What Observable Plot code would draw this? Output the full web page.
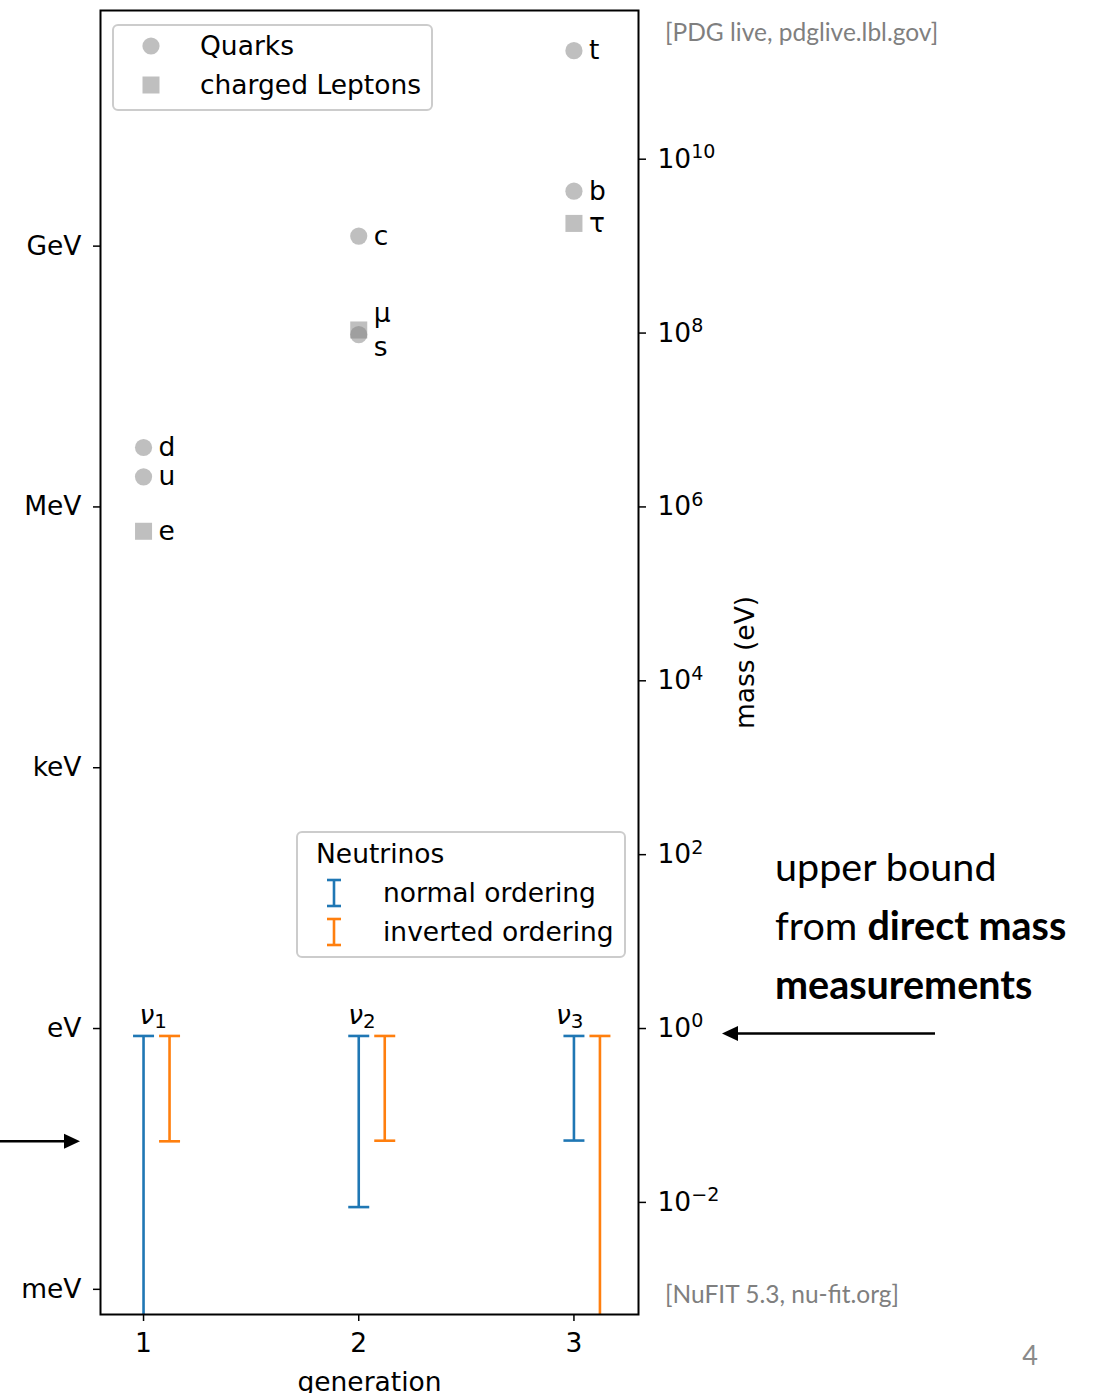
<!DOCTYPE html>
<html>
<head>
<meta charset="utf-8">
<script src="https://cdn.jsdelivr.net/npm/d3@7"></script>
<script src="https://cdn.jsdelivr.net/npm/@observablehq/plot@0.6"></script>
<style>
  html, body { margin: 0; padding: 0; background: white; }
  #chart { width: 1097px; height: 1393px; overflow: hidden; }
</style>
</head>
<body>
<div id="chart"></div>
<script>
// ---------- data ----------
const quarkNames = ["u", "d", "c", "s", "t", "b"];
const quarkGen   = [1, 1, 2, 2, 3, 3];
const quarkMass  = [2.16e6, 4.7e6, 1.27e9, 9.35e7, 1.727e11, 4.18e9]; // eV

const leptonNames = ["e", "μ", "τ"];
const leptonGen   = [1, 2, 3];
const leptonMass  = [0.511e6, 105.66e6, 1.777e9]; // eV

const nuNames       = ["ν_1", "ν_2", "ν_3"];
const nuGen         = [1, 2, 3];
const nuLabelX      = [1.045, 2.015, 2.98];
const nuUpper       = [0.8, 0.8, 0.8];          // eV, direct mass bound
const normalLower   = [0, 0.0086, 0.0501];      // eV (0 = no lower bound)
const invertedLower = [0.0491, 0.0499, 0];      // eV

const leftTicks      = [1e-3, 1, 1e3, 1e6, 1e9];
const leftTickLabels = ["meV", "eV", "keV", "MeV", "GeV"];
const rightTicks     = [1e-2, 1, 1e2, 1e4, 1e6, 1e8, 1e10];

const xDomain = [0.8, 3.3];
const yDomain = [5e-4, 5e11];

// ---------- tables ----------
const quarks  = quarkNames.map((n, i) => ({name: n, gen: quarkGen[i], mass: quarkMass[i]}));
const leptons = leptonNames.map((n, i) => ({name: n, gen: leptonGen[i], mass: leptonMass[i]}));
const particles = [...quarks, ...leptons];
const nus = nuNames.map((n, i) => ({
  name: n, gen: nuGen[i], lx: nuLabelX[i], up: nuUpper[i],
  loN: normalLower[i], loI: invertedLower[i]
}));

const BLUE = "#1f77b4", ORANGE = "#ff7f0e", GRAY = "#808080";
const FONT = "DejaVu Sans, sans-serif";
const SLIDE = "Lato, 'Open Sans', sans-serif";
const FS = 26.5;

// horizontal cap symbol for error bars
const capSymbol = {
  draw(context, size) {
    const w = Math.sqrt(size / Math.PI);
    context.moveTo(-w, 0);
    context.lineTo(w, 0);
  }
};

const yMin = yDomain[0] * 0.5;

const plot = Plot.plot({
  width: 1097,
  height: 1393,
  marginLeft: 100,
  marginRight: 459,
  marginTop: 10,
  marginBottom: 79,
  x: {domain: xDomain},
  y: {type: "log", domain: yDomain},
  style: {fontFamily: FONT, fontSize: FS + "px", background: "white", color: "black"},
  marks: [
    // error bars: normal ordering
    Plot.ruleX(nus, {x: "gen", y1: d => d.loN > 0 ? d.loN : yMin, y2: "up",
      stroke: BLUE, strokeWidth: 2.6, clip: true}),
    Plot.dot(nus, {x: "gen", y: "up", symbol: capSymbol, r: 10.5, fill: "none",
      stroke: BLUE, strokeWidth: 2.6}),
    Plot.dot(nus.filter(d => d.loN > 0), {x: "gen", y: "loN", symbol: capSymbol, r: 10.5,
      fill: "none", stroke: BLUE, strokeWidth: 2.6}),
    // error bars: inverted ordering
    Plot.ruleX(nus, {x: "gen", dx: 26, y1: d => d.loI > 0 ? d.loI : yMin, y2: "up",
      stroke: ORANGE, strokeWidth: 2.6, clip: true}),
    Plot.dot(nus, {x: "gen", dx: 26, y: "up", symbol: capSymbol, r: 10.5, fill: "none",
      stroke: ORANGE, strokeWidth: 2.6}),
    Plot.dot(nus.filter(d => d.loI > 0), {x: "gen", dx: 26, y: "loI", symbol: capSymbol, r: 10.5,
      fill: "none", stroke: ORANGE, strokeWidth: 2.6}),
    // neutrino labels
    Plot.text(nus, {x: "lx", y: d => 1, text: "name", lineAnchor: "bottom",
      textAnchor: "middle", fontSize: FS, dy: -4}),
    // quarks and charged leptons
    Plot.dot(quarks, {x: "gen", y: "mass", r: 8.6, fill: GRAY, fillOpacity: 0.5, symbol: "circle"}),
    Plot.dot(leptons, {x: "gen", y: "mass", r: 9.6, fill: GRAY, fillOpacity: 0.5, symbol: "square"}),
    Plot.text(particles.filter(d => d.name !== "μ" && d.name !== "s"),
      {x: "gen", y: "mass", text: "name", dx: 15, textAnchor: "start", lineAnchor: "middle", fontSize: FS}),
    Plot.text(particles.filter(d => d.name === "μ"),
      {x: "gen", y: "mass", text: "name", dx: 15, dy: -16, textAnchor: "start", lineAnchor: "middle", fontSize: FS}),
    Plot.text(particles.filter(d => d.name === "s"),
      {x: "gen", y: "mass", text: "name", dx: 15, dy: 13, textAnchor: "start", lineAnchor: "middle", fontSize: FS}),
    // axes
    Plot.axisY({anchor: "left", ticks: leftTicks,
      tickFormat: d => leftTickLabels[leftTicks.indexOf(d)] ?? "",
      tickSize: 7, tickPadding: 12, label: null, fontSize: FS, strokeWidth: 1.5, dy: 1}),
    Plot.axisY({anchor: "right", ticks: rightTicks,
      tickFormat: d => "10^" + Math.round(Math.log10(d)),
      tickSize: 7, tickPadding: 12, label: null, fontSize: FS, strokeWidth: 1.5, dy: 1}),
    Plot.axisX({anchor: "bottom", ticks: [1, 2, 3], tickFormat: d => String(d),
      tickSize: 7, tickPadding: 12, label: null, fontSize: FS, strokeWidth: 1.5}),
    Plot.text(["mass (eV)"], {frameAnchor: "right", dx: 107, rotate: -90, text: d => d,
      textAnchor: "middle", lineAnchor: "middle", fontSize: FS}),
    Plot.text(["generation"], {frameAnchor: "bottom", dy: 68, text: d => d,
      textAnchor: "middle", lineAnchor: "middle", fontSize: FS}),
    Plot.frame({stroke: "black", strokeWidth: 2})
  ]
});

document.getElementById("chart").appendChild(plot);

// ---------- post-processing: superscripts / subscripts ----------
const svg = d3.select(plot);
svg.selectAll("text").each(function () {
  const t = d3.select(this);
  const s = t.text();
  let m = /^10\^(-?\d+)$/.exec(s);
  if (m) {
    const exp = m[1].replace("-", "−");
    t.text(null);
    t.append("tspan").text("10");
    t.append("tspan").attr("dy", "-0.5em").attr("font-size", "0.72em").text(exp);
    return;
  }
  m = /^ν_(\d)$/.exec(s);
  if (m) {
    t.text(null);
    t.append("tspan").attr("font-style", "italic").text("ν");
    t.append("tspan").attr("dy", "0.22em").attr("font-size", "0.75em").text(m[1]);
  }
});

const ys = plot.scale("y");
const L = 100, R = 1097 - 459, T = 10, B = 1393 - 79;

// ---------- legend 1: Quarks / charged Leptons ----------
const g1 = svg.append("g").attr("font-family", FONT).attr("font-size", FS).attr("text-anchor", "start");
g1.append("rect").attr("x", L + 13).attr("y", T + 15).attr("width", 319).attr("height", 85)
  .attr("rx", 5).attr("fill", "white").attr("fill-opacity", 0.8)
  .attr("stroke", "#cccccc").attr("stroke-width", 2);
g1.append("circle").attr("cx", L + 51).attr("cy", T + 36).attr("r", 8.6)
  .attr("fill", GRAY).attr("fill-opacity", 0.5);
g1.append("rect").attr("x", L + 51 - 8.5).attr("y", T + 75 - 8.5).attr("width", 17).attr("height", 17)
  .attr("fill", GRAY).attr("fill-opacity", 0.5);
g1.append("text").attr("x", L + 100).attr("y", T + 36).attr("dy", "0.35em").text("Quarks");
g1.append("text").attr("x", L + 100).attr("y", T + 75).attr("dy", "0.35em").text("charged Leptons");

// ---------- legend 2: Neutrinos ----------
const g2 = svg.append("g").attr("font-family", FONT).attr("font-size", FS).attr("text-anchor", "start");
g2.append("rect").attr("x", 297).attr("y", 832).attr("width", 328).attr("height", 125)
  .attr("rx", 5).attr("fill", "white").attr("fill-opacity", 0.8)
  .attr("stroke", "#cccccc").attr("stroke-width", 2);
g2.append("text").attr("x", 316).attr("y", 854).attr("dy", "0.35em").text("Neutrinos");
[[BLUE, 893, "normal ordering"], [ORANGE, 932, "inverted ordering"]].forEach(([c, cy, label]) => {
  const x0 = 334;
  g2.append("line").attr("x1", x0).attr("x2", x0).attr("y1", cy - 13).attr("y2", cy + 13)
    .attr("stroke", c).attr("stroke-width", 2.6);
  g2.append("line").attr("x1", x0 - 7).attr("x2", x0 + 7).attr("y1", cy - 13).attr("y2", cy - 13)
    .attr("stroke", c).attr("stroke-width", 2.6);
  g2.append("line").attr("x1", x0 - 7).attr("x2", x0 + 7).attr("y1", cy + 13).attr("y2", cy + 13)
    .attr("stroke", c).attr("stroke-width", 2.6);
  g2.append("text").attr("x", 383).attr("y", cy).attr("dy", "0.35em").text(label);
});

// ---------- slide annotations ----------
const ga = svg.append("g").attr("font-family", SLIDE).attr("text-anchor", "start");
ga.append("text").attr("x", 665).attr("y", 41).attr("font-size", 24.5).attr("fill", "#7f7f7f")
  .text("[PDG live, pdglive.lbl.gov]");
ga.append("text").attr("x", 665).attr("y", 1303).attr("font-size", 24.5).attr("fill", "#7f7f7f")
  .text("[NuFIT 5.3, nu-fit.org]");
ga.append("text").attr("x", 1030).attr("y", 1365).attr("font-size", 27).attr("fill", "#8a8a8a")
  .attr("text-anchor", "middle").text("4");

const ub = ga.append("g").attr("font-size", 39.5).attr("fill", "black");
ub.append("text").attr("x", 775).attr("y", 881).text("upper bound");
const l2 = ub.append("text").attr("x", 775).attr("y", 940);
l2.append("tspan").text("from ");
l2.append("tspan").attr("font-weight", "bold").text("direct mass");
ub.append("text").attr("x", 775).attr("y", 999).attr("font-weight", "bold").text("measurements");

// arrows
function arrow(x1, x2, y) {
  const dir = Math.sign(x2 - x1);
  const head = 16, half = 7.5;
  svg.append("line").attr("x1", x1).attr("x2", x2 - dir * head).attr("y1", y).attr("y2", y)
    .attr("stroke", "black").attr("stroke-width", 2.6);
  svg.append("path")
    .attr("d", `M${x2},${y} L${x2 - dir * head},${y - half} L${x2 - dir * head},${y + half} Z`)
    .attr("fill", "black");
}
arrow(935, 722, ys.apply(nuUpper[0]) - 2);
arrow(0, 80, ys.apply(invertedLower[1]) + 1);
</script>
</body>
</html>
